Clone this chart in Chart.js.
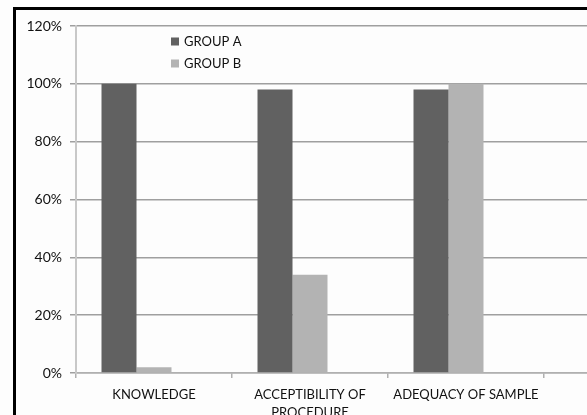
<!DOCTYPE html>
<html>
<head>
<meta charset="utf-8">
<script src="https://cdn.jsdelivr.net/npm/chart.js@4/dist/chart.umd.min.js"></script>
<style>
  html, body { margin: 0; padding: 0; background: #fdfdfd; }
  body { width: 587px; height: 415px; overflow: hidden; position: relative; }
  #wrap { position: absolute; left: 0; top: 0; width: 710px; height: 415px; }
  #frame { position: absolute; left: 13px; top: 7px; width: 800px; height: 500px;
           border-left: 3px solid #000; border-top: 3px solid #000; pointer-events: none; }
</style>
</head>
<body>
<div id="wrap"><canvas id="chart" width="710" height="415"></canvas></div>
<div id="frame"></div>
<script>
// Categories along the x axis (the last slot is an unused, blank category)
const categories = ['KNOWLEDGE', ['ACCEPTIBILITY OF', 'PROCEDURE'], 'ADEQUACY OF SAMPLE', ''];
// Percentages for each group
const groupA = [100, 98, 98, null];
const groupB = [2, 34, 100, null];
// Empty third series: keeps the bars in their three-slot positions
const unusedSeries = [null, null, null, null];
// Y-axis tick values
const yTicks = [0, 20, 40, 60, 80, 100, 120];

const FONT = 'Lato, "Liberation Sans", sans-serif';
const TEXT = '#111111';

// Draws the legend inside the plot area, upper-left of centre
const insideLegend = {
  id: 'insideLegend',
  afterDraw(chart) {
    const ctx = chart.ctx;
    ctx.save();
    ctx.font = '13px ' + FONT;
    ctx.textBaseline = 'middle';
    let y = 41.5;
    chart.data.datasets.forEach(ds => {
      if (!ds.label) return;
      ctx.fillStyle = ds.backgroundColor;
      ctx.fillRect(171, y - 4, 8, 8);
      ctx.fillStyle = TEXT;
      ctx.fillText(ds.label, 184, y + 0.5);
      y += 22;
    });
    ctx.restore();
  }
};

new Chart(document.getElementById('chart'), {
  type: 'bar',
  data: {
    labels: categories,
    datasets: [
      { label: 'GROUP A', data: groupA, backgroundColor: '#616161' },
      { label: 'GROUP B', data: groupB, backgroundColor: '#b3b3b3' },
      { label: '', data: unusedSeries, backgroundColor: '#ffffff' }
    ]
  },
  options: {
    responsive: false,
    animation: false,
    layout: { padding: { top: 26, right: 10, left: 0, bottom: 0 } },
    datasets: { bar: { categoryPercentage: 0.673, barPercentage: 1, borderWidth: 0 } },
    plugins: { legend: { display: false }, tooltip: { enabled: false } },
    scales: {
      x: {
        offset: true,
        grid: { offset: true, drawOnChartArea: false, color: '#b0b0b0', tickLength: 5, lineWidth: 1.5 },
        border: { color: '#b0b0b0', width: 1.5 },
        ticks: { color: TEXT, font: { family: FONT, size: 13, lineHeight: 1.35 }, padding: 8, maxRotation: 0, autoSkip: false },
        afterFit(scale) { scale.height = 42; }
      },
      y: {
        min: 0,
        max: 120,
        afterBuildTicks(scale) { scale.ticks = yTicks.map(v => ({ value: v })); },
        grid: { color: '#9f9f9f', tickLength: 6, lineWidth: 1.5 },
        border: { color: '#c8c8c8', width: 2 },
        ticks: { color: TEXT, font: { family: FONT, size: 14 }, padding: 8, callback: v => v + '%' },
        afterFit(scale) { scale.width = 76; }
      }
    }
  },
  plugins: [insideLegend]
});
</script>
</body>
</html>
